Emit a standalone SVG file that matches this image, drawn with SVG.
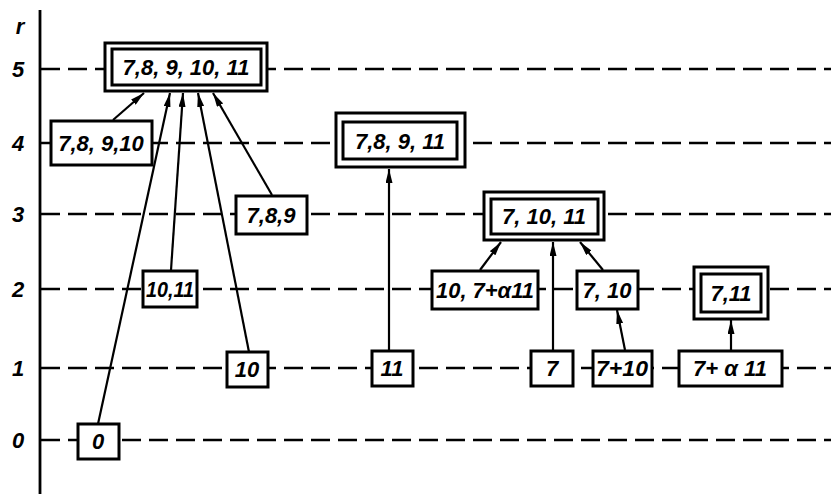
<svg xmlns="http://www.w3.org/2000/svg" width="831" height="494" viewBox="0 0 831 494">
  <style>
    .axis { stroke: #000; stroke-width: 2.8; fill: none; }
    .level { stroke: #000; stroke-width: 2.6; stroke-dasharray: 19 8; fill: none; }
    .box { fill: #fff; stroke: #000; stroke-width: 3; }
    .inner { fill: #fff; stroke: #000; stroke-width: 3; }
    .lbl { font-family: "Liberation Sans", Arial, sans-serif; font-style: italic; font-weight: bold; font-size: 22px; fill: #000; text-anchor: middle; dominant-baseline: central; }
    .tick { font-family: "Liberation Sans", Arial, sans-serif; font-style: italic; font-weight: bold; font-size: 22px; fill: #000; text-anchor: middle; dominant-baseline: central; }
    .edge { stroke: #000; stroke-width: 2.2; fill: none; marker-end: url(#arrow); }
  </style>
  <defs>
    <marker id="arrow" viewBox="0 0 14 7" refX="14" refY="3.5" markerWidth="14" markerHeight="7" markerUnits="userSpaceOnUse" orient="auto">
      <path d="M0,0 L14,3.5 L0,7 Z" fill="#000"/>
    </marker>
  </defs>

  <!-- axis and level scale -->
  <g id="axis">
    <line class="axis" x1="40" y1="10" x2="40" y2="494"/>
    <text class="tick" x="20" y="26">r</text>
    <text class="tick" x="18" y="69">5</text>
    <text class="tick" x="18" y="143">4</text>
    <text class="tick" x="18" y="214">3</text>
    <text class="tick" x="18" y="289">2</text>
    <text class="tick" x="18" y="368">1</text>
    <text class="tick" x="18" y="440">0</text>
  </g>

  <!-- dashed level lines -->
  <g id="levels">
    <line class="level" x1="41" y1="69" x2="831" y2="69"/>
    <line class="level" x1="41" y1="143" x2="831" y2="143"/>
    <line class="level" x1="41" y1="214" x2="831" y2="214"/>
    <line class="level" x1="41" y1="289" x2="831" y2="289"/>
    <line class="level" x1="41" y1="368" x2="831" y2="368"/>
    <line class="level" x1="41" y1="440" x2="831" y2="440"/>
  </g>

  <!-- connectors -->
  <g id="connectors">
    <line class="edge" x1="113" y1="120" x2="144" y2="93"/>
    <line class="edge" x1="98" y1="424" x2="170" y2="93"/>
    <line class="edge" x1="171" y1="270" x2="183" y2="93"/>
    <line class="edge" x1="249" y1="352" x2="198" y2="93"/>
    <line class="edge" x1="272" y1="195" x2="213" y2="93"/>
    <line class="edge" x1="389" y1="351" x2="389" y2="169"/>
    <line class="edge" x1="480" y1="270" x2="501" y2="242"/>
    <line class="edge" x1="553" y1="350" x2="553" y2="242"/>
    <line class="edge" x1="603" y1="270" x2="580" y2="242"/>
    <line class="edge" x1="625" y1="350" x2="617" y2="310"/>
    <line class="edge" x1="731" y1="350" x2="731" y2="320"/>
  </g>

  <!-- level 5 -->
  <g id="n-7-8-9-10-11">
    <rect class="box" x="105" y="43" width="162" height="48"/>
    <rect class="inner" x="112" y="49" width="149" height="36"/>
    <text class="lbl" x="186" y="67">7,8, 9, 10, 11</text>
  </g>

  <!-- level 4 -->
  <g id="n-7-8-9-10">
    <rect class="box" x="51" y="121" width="101" height="44"/>
    <text class="lbl" x="101" y="143">7,8, 9,10</text>
  </g>
  <g id="n-7-8-9-11">
    <rect class="box" x="336" y="113" width="129" height="54"/>
    <rect class="inner" x="343" y="122" width="114" height="37"/>
    <text class="lbl" x="400" y="141">7,8, 9, 11</text>
  </g>

  <!-- level 3 -->
  <g id="n-7-8-9">
    <rect class="box" x="236" y="196" width="71" height="38"/>
    <text class="lbl" x="271" y="215">7,8,9</text>
  </g>
  <g id="n-7-10-11">
    <rect class="box" x="484" y="192" width="120" height="48"/>
    <rect class="inner" x="491" y="199" width="107" height="35"/>
    <text class="lbl" x="544" y="216">7, 10, 11</text>
  </g>

  <!-- level 2 -->
  <g id="n-10-11">
    <rect class="box" x="143" y="271" width="54" height="36"/>
    <text class="lbl" x="170" y="289" textLength="48" lengthAdjust="spacingAndGlyphs">10,11</text>
  </g>
  <g id="n-10-7a11">
    <rect class="box" x="432" y="271" width="106" height="38"/>
    <text class="lbl" x="485" y="290" textLength="98" lengthAdjust="spacingAndGlyphs">10, 7+α11</text>
  </g>
  <g id="n-7-10">
    <rect class="box" x="577" y="271" width="61" height="38"/>
    <text class="lbl" x="607" y="290">7, 10</text>
  </g>
  <g id="n-7-11">
    <rect class="box" x="694" y="267" width="74" height="52"/>
    <rect class="inner" x="701" y="274" width="60" height="38"/>
    <text class="lbl" x="731" y="293">7,11</text>
  </g>

  <!-- level 1 -->
  <g id="n-10">
    <rect class="box" x="227" y="352" width="41" height="35"/>
    <text class="lbl" x="247" y="369">10</text>
  </g>
  <g id="n-11">
    <rect class="box" x="372" y="351" width="41" height="35"/>
    <text class="lbl" x="392" y="368">11</text>
  </g>
  <g id="n-7">
    <rect class="box" x="531" y="351" width="42" height="35"/>
    <text class="lbl" x="552" y="368">7</text>
  </g>
  <g id="n-7p10">
    <rect class="box" x="593" y="351" width="59" height="35"/>
    <text class="lbl" x="622" y="368" textLength="52" lengthAdjust="spacingAndGlyphs">7+10</text>
  </g>
  <g id="n-7pa11">
    <rect class="box" x="679" y="351" width="103" height="35"/>
    <text class="lbl" x="730" y="368">7+ α 11</text>
  </g>

  <!-- level 0 -->
  <g id="n-0">
    <rect class="box" x="78" y="424" width="41" height="35"/>
    <text class="lbl" x="98" y="441">0</text>
  </g>
</svg>
